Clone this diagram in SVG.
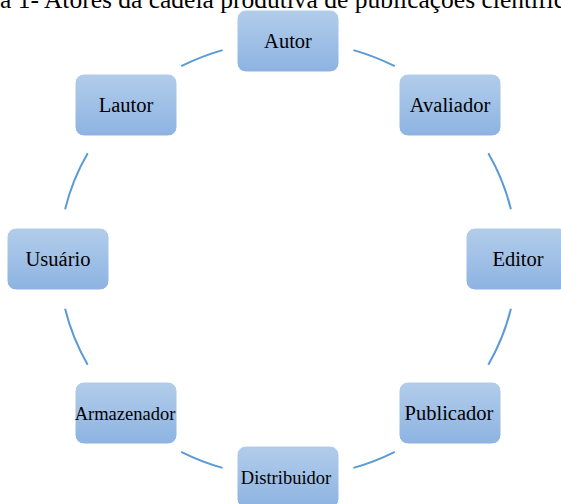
<svg xmlns="http://www.w3.org/2000/svg" width="561" height="504" viewBox="0 0 561 504">
  <defs>
    <linearGradient id="boxFill" x1="0" y1="0" x2="0" y2="1">
      <stop offset="0" stop-color="#b2cdea"/>
      <stop offset="1" stop-color="#8db3e2"/>
    </linearGradient>
    <style>
      .box { fill: url(#boxFill); stroke: #ffffff; stroke-width: 1; }
      .label { font-family: 'Liberation Serif', Tinos, 'Times New Roman', serif; font-size: 20.5px; fill: #000000; text-anchor: middle; }
      .small { font-size: 18.5px; }
      .title { font-family: 'Liberation Serif', Tinos, 'Times New Roman', serif; font-size: 25.5px; fill: #000000; }
      .arc { fill: none; stroke: #5b9bd5; stroke-width: 2; }
    </style>
  </defs>
  <rect width="561" height="504" fill="#ffffff"/>

  <text class="title" x="0" y="8">a 1- Atores da cadeia produtiva de publicações científicas</text>

  <g id="connectors">
    <path class="arc" d="M353.4,50.1 A229,218 0 0 1 394.8,66.2"/>
    <path class="arc" d="M488.3,153.3 A229,218 0 0 1 510.9,209.2"/>
    <path class="arc" d="M510.9,308.8 A229,218 0 0 1 488.3,364.7"/>
    <path class="arc" d="M394.8,451.8 A229,218 0 0 1 353.4,467.9"/>
    <path class="arc" d="M222.6,467.9 A229,218 0 0 1 181.2,451.8"/>
    <path class="arc" d="M87.7,364.7 A229,218 0 0 1 65.1,308.8"/>
    <path class="arc" d="M65.1,209.2 A229,218 0 0 1 87.7,153.3"/>
    <path class="arc" d="M181.2,66.2 A229,218 0 0 1 222.6,50.1"/>
  </g>

  <g id="autor">
    <rect class="box" x="237" y="10" width="102" height="62" rx="9"/>
    <text class="label" x="288" y="48">Autor</text>
  </g>
  <g id="avaliador">
    <rect class="box" x="399" y="74" width="102" height="62" rx="9"/>
    <text class="label" x="450" y="112">Avaliador</text>
  </g>
  <g id="editor">
    <rect class="box" x="466" y="228" width="102" height="62" rx="9"/>
    <text class="label" x="518" y="266">Editor</text>
  </g>
  <g id="publicador">
    <rect class="box" x="399" y="382" width="102" height="62" rx="9"/>
    <text class="label" x="449" y="420">Publicador</text>
  </g>
  <g id="distribuidor">
    <rect class="box" x="237" y="446" width="102" height="62" rx="9"/>
    <text class="label small" x="286" y="484">Distribuidor</text>
  </g>
  <g id="armazenador">
    <rect class="box" x="75" y="382" width="102" height="62" rx="9"/>
    <text class="label small" x="125" y="420">Armazenador</text>
  </g>
  <g id="usuario">
    <rect class="box" x="7" y="228" width="102" height="62" rx="9"/>
    <text class="label" x="58" y="266">Usuário</text>
  </g>
  <g id="lautor">
    <rect class="box" x="75" y="74" width="102" height="62" rx="9"/>
    <text class="label" x="126" y="112">Lautor</text>
  </g>
</svg>
